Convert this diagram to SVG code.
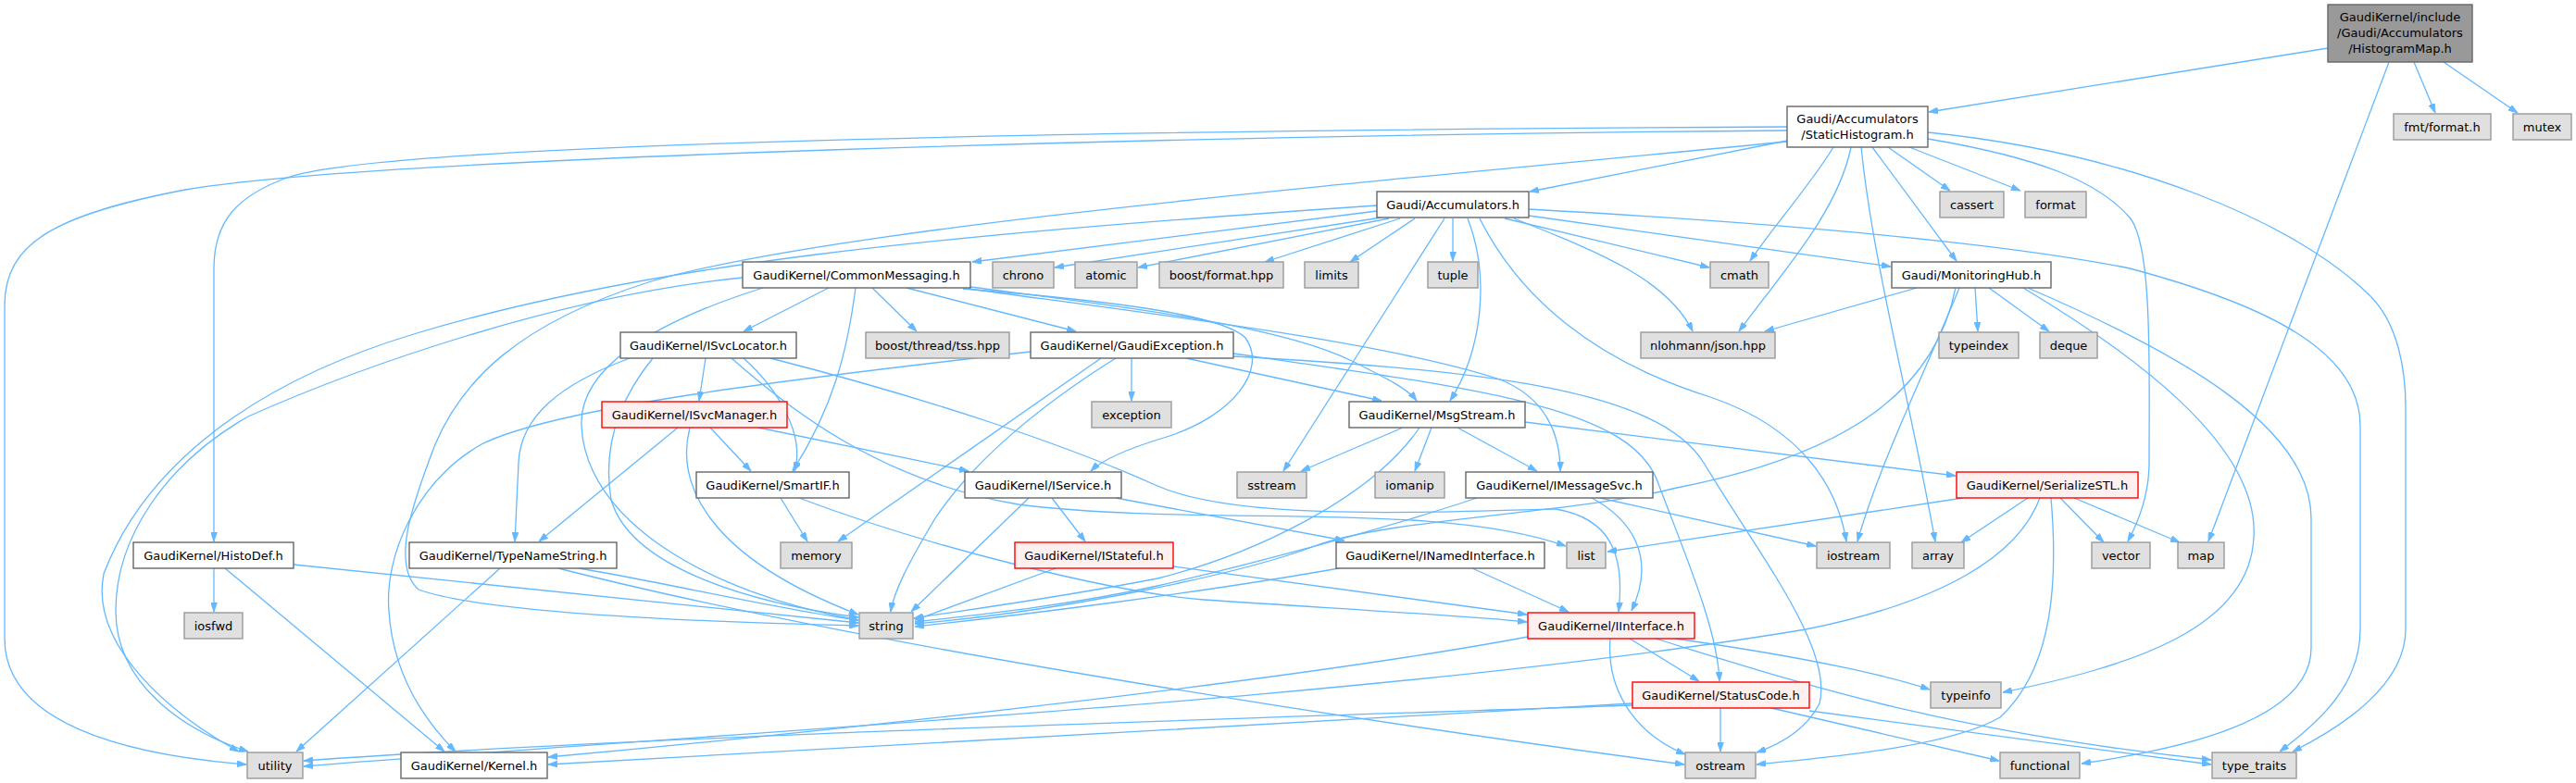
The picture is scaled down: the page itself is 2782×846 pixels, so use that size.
<svg xmlns="http://www.w3.org/2000/svg" width="2782" height="846" viewBox="0 0 2782 846">
<style>
.e{fill:none;stroke:#63b8ff;stroke-width:1.3;marker-end:url(#ah)}
.n rect{fill:#ffffff;stroke:#666666;stroke-width:1.4}
.x rect{fill:#e0e0e0;stroke:#999999;stroke-width:1.4}
.r rect{fill:#fff0f0;stroke:#ff0000;stroke-width:1.4}
.root rect{fill:#999999;stroke:#666666;stroke-width:1.4}
text{font-family:"DejaVu Sans","Liberation Sans",sans-serif;font-size:13px;text-anchor:middle;fill:#000000}
</style>
<defs>
<marker id="ah" viewBox="0 0 10 7" refX="10" refY="3.5" markerWidth="10" markerHeight="7" markerUnits="userSpaceOnUse" orient="auto"><path d="M0,0 L10,3.5 L0,7 z" fill="#63b8ff" stroke="#63b8ff" stroke-width="0.8"/></marker>
</defs>
<rect width="2782" height="846" fill="#ffffff"/>
<g id="edges">
<path class="e" d="M2514,52 L2083,121"/>
<path class="e" d="M2607,67 L2630,122"/>
<path class="e" d="M2639,67 L2719,122"/>
<path class="e" d="M2580,67 L2385,585"/>
<path class="e" d="M1930,152 L1652,207"/>
<path class="e" d="M2022,159 L2113,282"/>
<path class="e" d="M1930,137 C1300,140 420,152 310,192 C255,212 231,240 231,290 L231,585"/>
<path class="e" d="M1930,141 C1300,146 400,170 200,205 C60,232 5,262 5,330 L5,690 C5,780 130,815 266,826"/>
<path class="e" d="M2039,159 L2106,206"/>
<path class="e" d="M2062,159 L2182,206"/>
<path class="e" d="M1980,159 C1955,200 1915,245 1890,282"/>
<path class="e" d="M1999,159 C1985,230 1920,300 1878,358"/>
<path class="e" d="M2010,159 C2022,280 2060,420 2090,585"/>
<path class="e" d="M2082,150 C2200,170 2265,195 2300,235 C2325,265 2321,400 2321,500 C2321,540 2306,570 2298,585"/>
<path class="e" d="M2082,143 C2300,165 2480,240 2560,320 C2590,350 2598,400 2598,440 L2598,680 C2598,740 2530,785 2476,812"/>
<path class="e" d="M1930,153 C1500,195 900,245 700,305 C560,350 500,410 470,480 C445,545 422,610 452,637 C530,665 800,673 927,676"/>
<path class="e" d="M1487,228 L1050,283"/>
<path class="e" d="M1492,235 L1139,289"/>
<path class="e" d="M1500,236 L1229,289"/>
<path class="e" d="M1512,236 L1366,283"/>
<path class="e" d="M1528,236 L1458,283"/>
<path class="e" d="M1569,236 L1569,282"/>
<path class="e" d="M1625,236 L1846,289"/>
<path class="e" d="M1651,233 L2042,288"/>
<path class="e" d="M1635,236 C1720,270 1800,300 1828,358"/>
<path class="e" d="M1585,236 C1610,300 1600,380 1566,433"/>
<path class="e" d="M1560,236 L1386,509"/>
<path class="e" d="M1598,236 C1640,320 1720,390 1850,430 C1950,465 1985,530 1994,585"/>
<path class="e" d="M1651,226 C1900,240 2150,260 2300,290 C2450,330 2549,380 2549,460 L2549,680 C2549,740 2505,780 2462,812"/>
<path class="e" d="M1487,222 C1000,255 700,285 450,360 C250,420 150,520 112,620 C96,700 190,775 258,812"/>
<path class="e" d="M895,311 L803,358"/>
<path class="e" d="M942,311 L990,358"/>
<path class="e" d="M979,311 L1162,358"/>
<path class="e" d="M924,311 C915,380 900,440 856,509"/>
<path class="e" d="M1048,310 C1200,330 1380,350 1460,390 C1500,410 1520,420 1530,433"/>
<path class="e" d="M1046,312 C1250,340 1500,370 1620,410 C1670,430 1685,470 1685,509"/>
<path class="e" d="M1040,312 C1200,325 1320,340 1345,365 C1370,400 1330,450 1260,472 C1220,484 1190,497 1178,509"/>
<path class="e" d="M802,300 C600,320 380,400 268,450 C180,500 125,580 125,660 C125,740 200,790 268,812"/>
<path class="e" d="M824,311 C700,350 625,400 628,460 C632,560 760,640 927,670"/>
<path class="e" d="M762,387 L755,433"/>
<path class="e" d="M803,387 C840,420 870,470 858,509"/>
<path class="e" d="M680,387 C605,415 562,450 560,500 L556,585"/>
<path class="e" d="M705,387 C670,430 650,480 660,540 C680,610 800,650 927,667"/>
<path class="e" d="M790,387 C850,440 950,520 1100,545 C1300,570 1550,540 1691,590"/>
<path class="e" d="M832,387 C1000,430 1150,480 1250,525 C1330,560 1500,555 1680,550 C1740,560 1755,600 1748,661"/>
<path class="e" d="M767,462 L811,509"/>
<path class="e" d="M819,462 L1046,509"/>
<path class="e" d="M732,462 L582,585"/>
<path class="e" d="M745,462 C730,520 760,600 927,664"/>
<path class="e" d="M1222,387 L1222,433"/>
<path class="e" d="M1189,387 L905,585"/>
<path class="e" d="M1205,387 C1120,440 1050,500 1010,560 C980,610 965,640 962,661"/>
<path class="e" d="M1281,387 L1492,433"/>
<path class="e" d="M1332,382 C1600,420 1760,440 1790,520 C1820,600 1855,680 1857,736"/>
<path class="e" d="M1332,385 C1600,400 1790,420 1840,500 C1900,600 1980,700 1965,760 C1950,790 1920,805 1897,813"/>
<path class="e" d="M1113,380 C850,410 600,440 520,480 C450,520 415,600 420,660 C425,740 470,790 492,812"/>
<path class="e" d="M1515,462 L1405,509"/>
<path class="e" d="M1546,462 L1528,509"/>
<path class="e" d="M1574,462 L1660,509"/>
<path class="e" d="M1647,456 L2112,514"/>
<path class="e" d="M1533,462 C1480,540 1350,600 1250,625 C1120,650 1020,662 987,668"/>
<path class="e" d="M1595,538 C1500,570 1350,610 1250,633 C1150,655 1050,665 988,672"/>
<path class="e" d="M1719,538 C1760,560 1790,600 1762,660"/>
<path class="e" d="M1728,538 L1961,590"/>
<path class="e" d="M1136,538 L1172,585"/>
<path class="e" d="M1111,538 L984,661"/>
<path class="e" d="M1205,538 L1452,584"/>
<path class="e" d="M1140,614 L988,670"/>
<path class="e" d="M1267,612 L1649,664"/>
<path class="e" d="M1590,614 L1694,661"/>
<path class="e" d="M1446,614 C1300,640 1100,665 988,677"/>
<path class="e" d="M843,538 L872,585"/>
<path class="e" d="M863,538 C1000,590 1200,640 1300,648 C1450,658 1580,665 1649,672"/>
<path class="e" d="M625,614 C700,626 850,660 927,670"/>
<path class="e" d="M603,614 C900,690 1400,770 1819,826"/>
<path class="e" d="M540,614 L320,812"/>
<path class="e" d="M231,614 L231,661"/>
<path class="e" d="M243,614 L480,812"/>
<path class="e" d="M317,610 L927,673"/>
<path class="e" d="M1760,690 L1835,736"/>
<path class="e" d="M1739,690 C1735,740 1760,790 1820,815"/>
<path class="e" d="M1809,690 C1950,710 2040,730 2084,745"/>
<path class="e" d="M1788,690 C1950,740 2100,790 2388,821"/>
<path class="e" d="M1650,688 C1400,735 900,790 592,818"/>
<path class="e" d="M1858,765 L1858,812"/>
<path class="e" d="M1913,765 L2159,822"/>
<path class="e" d="M1954,768 L2388,826"/>
<path class="e" d="M1763,760 C1400,780 900,810 592,826"/>
<path class="e" d="M1763,762 C1300,778 700,795 328,822"/>
<path class="e" d="M2120,538 L1736,596"/>
<path class="e" d="M2190,538 L2118,586"/>
<path class="e" d="M2203,538 C2180,600 2100,650 1950,680 C1500,755 800,790 328,828"/>
<path class="e" d="M2215,538 C2222,620 2220,720 2160,775 C2100,810 1950,820 1897,826"/>
<path class="e" d="M2225,538 L2272,586"/>
<path class="e" d="M2240,538 L2354,586"/>
<path class="e" d="M2070,311 L1906,358"/>
<path class="e" d="M2133,311 L2136,358"/>
<path class="e" d="M2148,311 L2213,358"/>
<path class="e" d="M2116,311 C2080,400 2030,500 2006,585"/>
<path class="e" d="M2112,311 C2090,420 2000,490 1811,527 C1700,555 1500,560 1420,590 C1340,620 1150,660 988,674"/>
<path class="e" d="M2185,311 C2300,380 2440,480 2434,580 C2430,680 2300,720 2163,748"/>
<path class="e" d="M2190,311 C2350,380 2496,460 2496,560 L2496,700 C2496,780 2350,810 2248,825"/>
</g>
<g id="histogrammap" class="root"><rect x="2514" y="5" width="156" height="62"/><text x="2592" y="23">GaudiKernel/include</text><text x="2592" y="40">/Gaudi/Accumulators</text><text x="2592" y="57">/HistogramMap.h</text></g>
<g id="statichistogram" class="n"><rect x="1930" y="115" width="152" height="44"/><text x="2006" y="133">Gaudi/Accumulators</text><text x="2006" y="150">/StaticHistogram.h</text></g>
<g id="fmtformat" class="x"><rect x="2585" y="123" width="105" height="28"/><text x="2637.5" y="141.5">fmt/format.h</text></g>
<g id="mutex" class="x"><rect x="2714" y="123" width="63" height="28"/><text x="2745.5" y="141.5">mutex</text></g>
<g id="cassert" class="x"><rect x="2095" y="207" width="69" height="28"/><text x="2129.5" y="225.5">cassert</text></g>
<g id="format" class="x"><rect x="2187" y="207" width="66" height="28"/><text x="2220" y="225.5">format</text></g>
<g id="accumulators" class="n"><rect x="1487" y="207" width="164" height="28"/><text x="1569" y="225.5">Gaudi/Accumulators.h</text></g>
<g id="commonmessaging" class="n"><rect x="802" y="283" width="246" height="28"/><text x="925" y="301.5">GaudiKernel/CommonMessaging.h</text></g>
<g id="chrono" class="x"><rect x="1072" y="283" width="66" height="28"/><text x="1105" y="301.5">chrono</text></g>
<g id="atomic" class="x"><rect x="1161" y="283" width="67" height="28"/><text x="1194.5" y="301.5">atomic</text></g>
<g id="boostformat" class="x"><rect x="1252" y="283" width="134" height="28"/><text x="1319" y="301.5">boost/format.hpp</text></g>
<g id="limits" class="x"><rect x="1409" y="283" width="58" height="28"/><text x="1438" y="301.5">limits</text></g>
<g id="tuple" class="x"><rect x="1542" y="283" width="54" height="28"/><text x="1569" y="301.5">tuple</text></g>
<g id="cmath" class="x"><rect x="1847" y="283" width="63" height="28"/><text x="1878.5" y="301.5">cmath</text></g>
<g id="monitoringhub" class="n"><rect x="2043" y="283" width="172" height="28"/><text x="2129" y="301.5">Gaudi/MonitoringHub.h</text></g>
<g id="isvclocator" class="n"><rect x="670" y="359" width="190" height="28"/><text x="765" y="377.5">GaudiKernel/ISvcLocator.h</text></g>
<g id="tss" class="x"><rect x="935" y="359" width="155" height="28"/><text x="1012.5" y="377.5">boost/thread/tss.hpp</text></g>
<g id="gaudiexception" class="n"><rect x="1113" y="359" width="219" height="28"/><text x="1222.5" y="377.5">GaudiKernel/GaudiException.h</text></g>
<g id="json" class="x"><rect x="1772" y="359" width="145" height="28"/><text x="1844.5" y="377.5">nlohmann/json.hpp</text></g>
<g id="typeindex" class="x"><rect x="2094" y="359" width="86" height="28"/><text x="2137" y="377.5">typeindex</text></g>
<g id="deque" class="x"><rect x="2203" y="359" width="62" height="28"/><text x="2234" y="377.5">deque</text></g>
<g id="isvcmanager" class="r"><rect x="650" y="434" width="200" height="28"/><text x="750" y="452.5">GaudiKernel/ISvcManager.h</text></g>
<g id="exception" class="x"><rect x="1179" y="434" width="86" height="28"/><text x="1222" y="452.5">exception</text></g>
<g id="msgstream" class="n"><rect x="1457" y="434" width="190" height="28"/><text x="1552" y="452.5">GaudiKernel/MsgStream.h</text></g>
<g id="smartif" class="n"><rect x="752" y="510" width="165" height="28"/><text x="834.5" y="528.5">GaudiKernel/SmartIF.h</text></g>
<g id="iservice" class="n"><rect x="1042" y="510" width="169" height="28"/><text x="1126.5" y="528.5">GaudiKernel/IService.h</text></g>
<g id="sstream" class="x"><rect x="1336" y="510" width="75" height="28"/><text x="1373.5" y="528.5">sstream</text></g>
<g id="iomanip" class="x"><rect x="1485" y="510" width="75" height="28"/><text x="1522.5" y="528.5">iomanip</text></g>
<g id="imessagesvc" class="n"><rect x="1583" y="510" width="202" height="28"/><text x="1684" y="528.5">GaudiKernel/IMessageSvc.h</text></g>
<g id="serializestl" class="r"><rect x="2113" y="510" width="196" height="28"/><text x="2211" y="528.5">GaudiKernel/SerializeSTL.h</text></g>
<g id="histodef" class="n"><rect x="144" y="586" width="173" height="28"/><text x="230.5" y="604.5">GaudiKernel/HistoDef.h</text></g>
<g id="typenamestring" class="n"><rect x="442" y="586" width="224" height="28"/><text x="554" y="604.5">GaudiKernel/TypeNameString.h</text></g>
<g id="memory" class="x"><rect x="843" y="586" width="77" height="28"/><text x="881.5" y="604.5">memory</text></g>
<g id="istateful" class="r"><rect x="1096" y="586" width="171" height="28"/><text x="1181.5" y="604.5">GaudiKernel/IStateful.h</text></g>
<g id="inamedinterface" class="n"><rect x="1443" y="586" width="225" height="28"/><text x="1555.5" y="604.5">GaudiKernel/INamedInterface.h</text></g>
<g id="list" class="x"><rect x="1692" y="586" width="42" height="28"/><text x="1713" y="604.5">list</text></g>
<g id="iostream" class="x"><rect x="1962" y="586" width="79" height="28"/><text x="2001.5" y="604.5">iostream</text></g>
<g id="array" class="x"><rect x="2065" y="586" width="56" height="28"/><text x="2093" y="604.5">array</text></g>
<g id="vector" class="x"><rect x="2259" y="586" width="63" height="28"/><text x="2290.5" y="604.5">vector</text></g>
<g id="map" class="x"><rect x="2352" y="586" width="50" height="28"/><text x="2377" y="604.5">map</text></g>
<g id="iosfwd" class="x"><rect x="199" y="662" width="63" height="28"/><text x="230.5" y="680.5">iosfwd</text></g>
<g id="string" class="x"><rect x="928" y="662" width="58" height="28"/><text x="957" y="680.5">string</text></g>
<g id="iinterface" class="r"><rect x="1650" y="662" width="180" height="28"/><text x="1740" y="680.5">GaudiKernel/IInterface.h</text></g>
<g id="statuscode" class="r"><rect x="1763" y="737" width="191" height="28"/><text x="1858.5" y="755.5">GaudiKernel/StatusCode.h</text></g>
<g id="typeinfo" class="x"><rect x="2085" y="737" width="76" height="28"/><text x="2123" y="755.5">typeinfo</text></g>
<g id="utility" class="x"><rect x="267" y="813" width="60" height="28"/><text x="297" y="831.5">utility</text></g>
<g id="kernel" class="n"><rect x="433" y="813" width="158" height="28"/><text x="512" y="831.5">GaudiKernel/Kernel.h</text></g>
<g id="ostream" class="x"><rect x="1820" y="813" width="76" height="28"/><text x="1858" y="831.5">ostream</text></g>
<g id="functional" class="x"><rect x="2160" y="813" width="86" height="28"/><text x="2203" y="831.5">functional</text></g>
<g id="type_traits" class="x"><rect x="2389" y="813" width="91" height="28"/><text x="2434.5" y="831.5">type_traits</text></g>
</svg>
